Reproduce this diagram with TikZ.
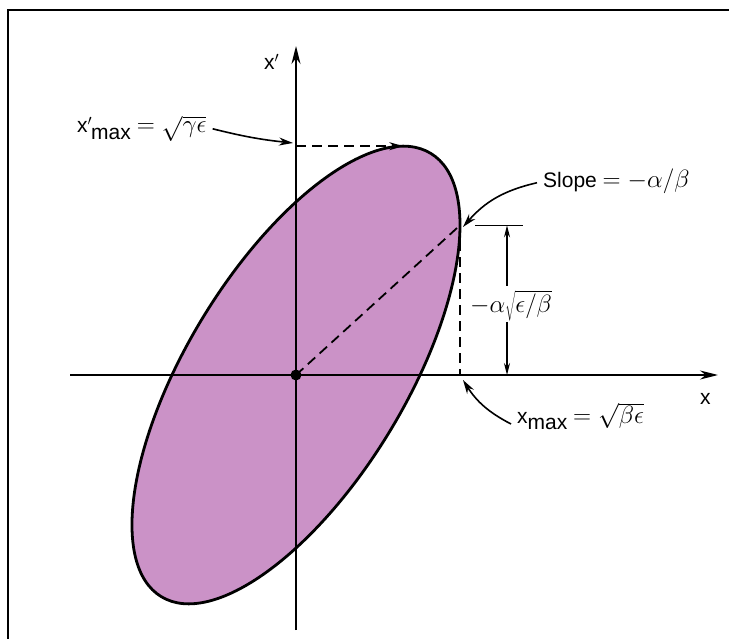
\documentclass[tikz,border=0pt]{standalone}
\usepackage{fix-cm}
\usepackage{fontspec}
\setmainfont{Liberation Sans}
\usetikzlibrary{arrows.meta}
\definecolor{ellfill}{RGB}{203,146,199}
\newcommand{\lgmath}[1]{{\fontsize{25}{30}\selectfont$#1$}}
\begin{document}
\begin{tikzpicture}[x=1pt,y=-1pt,
  frameline/.style={line width=2.2pt,black},
  axisline/.style={line width=1.8pt,-{Stealth[length=18pt,width=9pt]}},
  outline/.style={line width=2.8pt,fill=ellfill},
  dashline/.style={line width=1.8pt,dash pattern=on 10pt off 6pt},
  pointer/.style={line width=1.6pt,-{Stealth[length=14pt,width=8pt]}},
  dimarrow/.style={line width=1.2pt,-{Stealth[length=12pt,width=6pt]}},
  lbl/.style={inner sep=0pt,font=\fontsize{21}{25}\selectfont}]
\useasboundingbox (0,0) rectangle (729,639);
% frame
\draw[frameline] (8,645) -- (8,10) -- (735,10);
% key points
\coordinate (O) at (296,375);
\coordinate (P) at (460,225.3);
\coordinate (T) at (403.3,146.2);
\coordinate (Ty) at (296,146.2);
\coordinate (Px) at (460,375);
% ellipse
\draw[outline,rotate around={58.7:(O)}] (O) ellipse [x radius=259.4, y radius=109.4];
% axes
\coordinate (xl) at (70,375);
\coordinate (xr) at (718,375);
\coordinate (yb) at (296,630);
\coordinate (yt) at (296,46);
\draw[axisline] (xl) -- (xr);
\draw[axisline] (yb) -- (yt);
\fill (O) circle (5.5);
% dashed lines
\draw[dashline] (O) -- (P);
\draw[dashline] (P) -- (Px);
\draw[dashline,-{Stealth[length=14pt,width=8pt]}] (Ty) -- (T);
% dimension
\coordinate (d1) at (475,225.3);
\coordinate (d2) at (523,225.3);
\coordinate (da) at (507,225.3);
\coordinate (db) at (507,286);
\coordinate (dc) at (507,322);
\coordinate (dd) at (507,375);
\draw[line width=1.2pt] (d1) -- (d2);
\draw[dimarrow] (db) -- (da);
\draw[dimarrow] (dc) -- (dd);
% labels
\node[lbl,anchor=base west] (xp) at (264,70) {x$'$};
\node[lbl,anchor=base west] (xpm) at (77,133) {x$'$\hspace{-1pt}\raisebox{-0.3em}{max} \lgmath{=\sqrt{\gamma\epsilon}}};
\node[lbl,anchor=base west] (slope) at (543,188) {Slope \lgmath{=-\alpha/\beta}};
\node[lbl,anchor=base west] (dim) at (470,313) {\lgmath{-\alpha\sqrt{\epsilon/\beta}}};
\node[lbl,anchor=base west] (xl2) at (700,404) {x};
\node[lbl,anchor=base west] (xm) at (517,423) {x\raisebox{-0.3em}{max} \lgmath{=\sqrt{\beta\epsilon}}};
% pointers
\coordinate (A1) at (293,143);
\coordinate (A2) at (463,227);
\coordinate (A3) at (463,380);
\draw[pointer] ([xshift=6pt]xpm.east) to[bend right=4] (A1);
\draw[pointer] ([xshift=-6pt,yshift=-1pt]slope.west) to[bend right=18] (A2);
\draw[pointer] ([xshift=-6pt,yshift=-8pt]xm.west) to[bend left=15] (A3);
\end{tikzpicture}
\end{document}
